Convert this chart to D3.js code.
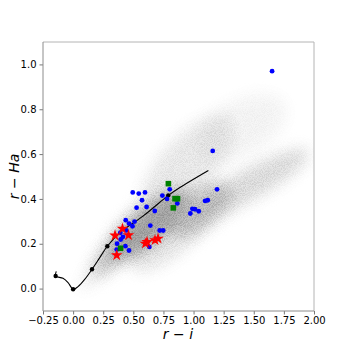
<!DOCTYPE html>
<html>
<head>
<meta charset="utf-8">
<script src="https://cdn.jsdelivr.net/npm/d3@7"></script>
<style>
  body { margin: 0; background: #fff; }
  text { font-family: "DejaVu Sans", sans-serif; }
</style>
</head>
<body>
<div id="chart"></div>
<script>
// axis ticks
const xTicks = [-0.25, 0, 0.25, 0.5, 0.75, 1.0, 1.25, 1.5, 1.75, 2.0];
const yTicks = [0, 0.2, 0.4, 0.6, 0.8, 1.0];

// background population, read as density blobs (centre, half length along ridge, half width, ridge slope, density)
const cloudX = [0.62, 0.62, 0.32, 0.95, 1.45, 1.05, 1.40, 0.80, 0.18, 0.45];
const cloudY = [0.28, 0.28, 0.15, 0.55, 0.46, 0.35, 0.72, 0.21, 0.07, 0.22];
const cloudLen = [0.33, 0.2, 0.15, 0.35, 0.50, 0.25, 0.35, 0.30, 0.12, 0.12];
const cloudWidth = [0.08, 0.05, 0.045, 0.12, 0.065, 0.08, 0.12, 0.07, 0.03, 0.05];
const cloudSlope = [0.45, 0.45, 0.6, 0.6, 0.3, 0.4, 0.3, 0.4, 0.6, 0.55];
const cloudDensity = [0.85, 0.75, 0.5, 0.2, 0.33, 0.5, 0.1, 0.22, 0.15, 0.5];

// model track
const trackRI = [-0.14, -0.145, -0.084, -0.042, 0.0, 0.041, 0.096, 0.157, 0.221, 0.284, 0.387, 0.58, 0.747, 0.79, 0.88, 1.123];
const trackRHa = [0.077, 0.056, 0.046, 0.027, -0.003, 0.009, 0.041, 0.086, 0.138, 0.189, 0.249, 0.323, 0.397, 0.416, 0.449, 0.527];
const trackDotRI = [-0.145, 0.0, 0.157, 0.284, 0.79];
const trackDotRHa = [0.056, -0.003, 0.086, 0.189, 0.416];

// blue circles
const blueRI = [0.495, 0.545, 0.597, 0.572, 0.527, 0.610, 0.678, 0.741, 0.780, 0.802, 0.865,
  0.437, 0.464, 0.510, 0.493, 0.442, 0.392, 0.414, 0.395, 0.365, 0.434, 0.362, 0.464,
  0.641, 0.719, 0.748, 0.633, 0.973, 0.990, 1.012, 1.043, 1.096, 1.118, 1.195, 1.159, 1.652];
const blueRHa = [0.429, 0.424, 0.429, 0.394, 0.361, 0.364, 0.346, 0.415, 0.400, 0.443, 0.380,
  0.305, 0.290, 0.299, 0.278, 0.260, 0.249, 0.231, 0.219, 0.200, 0.189, 0.174, 0.170,
  0.281, 0.259, 0.259, 0.186, 0.335, 0.356, 0.354, 0.345, 0.391, 0.394, 0.443, 0.614, 0.970];

// red stars
const starRI = [0.348, 0.410, 0.460, 0.362, 0.600, 0.614, 0.680, 0.705];
const starRHa = [0.237, 0.267, 0.238, 0.149, 0.201, 0.208, 0.216, 0.223];

// green squares
const squareRI = [0.791, 0.846, 0.867, 0.832, 0.394];
const squareRHa = [0.468, 0.401, 0.401, 0.360, 0.180];

const width = 350, height = 350;
const mLeft = 43, mRight = 314, mTop = 42, mBottom = 311;

const svg = d3.select("#chart").append("svg")
  .attr("width", width).attr("height", height)
  .style("background-color", "white");

const x = d3.scaleLinear().domain([-0.25, 2.0]).range([mLeft, mRight]);
const y = d3.scaleLinear().domain([-0.1, 1.1]).range([mBottom, mTop]);

const defs = svg.append("defs");
defs.append("clipPath").attr("id", "plot")
  .append("rect").attr("x", mLeft).attr("y", mTop)
  .attr("width", mRight - mLeft).attr("height", mBottom - mTop);

defs.append("filter").attr("id", "soft")
  .attr("x", "-30%").attr("y", "-30%").attr("width", "160%").attr("height", "160%")
  .append("feGaussianBlur").attr("stdDeviation", 7);

const f = defs.append("filter").attr("id", "grain")
  .attr("x", "-30%").attr("y", "-30%").attr("width", "160%").attr("height", "160%");
f.append("feGaussianBlur").attr("in", "SourceGraphic").attr("stdDeviation", 9).attr("result", "b");
f.append("feTurbulence").attr("type", "fractalNoise").attr("baseFrequency", 1.1)
  .attr("numOctaves", 1).attr("seed", 7).attr("result", "n");
f.append("feColorMatrix").attr("in", "n").attr("type", "matrix")
  .attr("values", "0 0 0 0 0  0 0 0 0 0  0 0 0 0 0  4 0 0 0 -1.6").attr("result", "m");
f.append("feComposite").attr("in", "b").attr("in2", "m").attr("operator", "in");

// cloud, drawn as a smooth layer and a speckled layer
function drawCloud(filterId, opacity) {
  let g = svg.append("g").attr("clip-path", "url(#plot)")
    .append("g").attr("filter", "url(#" + filterId + ")").attr("opacity", opacity);
  g.selectAll("ellipse").data(d3.range(cloudX.length)).enter()
    .append("ellipse")
    .attr("transform", (i) => {
      let cx = x(cloudX[i]), cy = y(cloudY[i]);
      let ex = x(cloudX[i] + cloudLen[i]), ey = y(cloudY[i] + cloudSlope[i] * cloudLen[i]);
      let a = Math.atan2(ey - cy, ex - cx) * 180 / Math.PI;
      return "translate(" + cx + "," + cy + ") rotate(" + a + ")";
    })
    .attr("rx", (i) => {
      let ex = x(cloudX[i] + cloudLen[i]) - x(cloudX[i]);
      let ey = y(cloudY[i] + cloudSlope[i] * cloudLen[i]) - y(cloudY[i]);
      return Math.hypot(ex, ey);
    })
    .attr("ry", (i) => y(0) - y(cloudWidth[i]))
    .attr("fill", "#858585")
    .attr("fill-opacity", (i) => cloudDensity[i]);
}
drawCloud("soft", 0.7);
drawCloud("grain", 0.7);

// axes
let xAxis = d3.axisBottom(x).tickValues(xTicks).tickFormat(d3.format(".2f")).tickSize(3.5).tickPadding(2);
let yAxis = d3.axisLeft(y).tickValues(yTicks).tickFormat(d3.format(".1f")).tickSize(3.5).tickPadding(3);

let gx = svg.append("g").attr("transform", "translate(0," + mBottom + ")").call(xAxis);
let gy = svg.append("g").attr("transform", "translate(" + mLeft + ",0)").call(yAxis);
[gx, gy].forEach((g) => {
  g.select(".domain").remove();
  g.selectAll(".tick line").attr("stroke", "#555").attr("stroke-width", 0.8);
  g.selectAll(".tick text").attr("fill", "#000").style("font-size", "10px")
    .style("font-family", "'DejaVu Sans', sans-serif");
});

// spines
svg.append("line").attr("x1", mLeft).attr("x2", mRight).attr("y1", mTop).attr("y2", mTop)
  .attr("stroke", "#b4b4b4").attr("stroke-width", 1);
svg.append("line").attr("x1", mRight).attr("x2", mRight).attr("y1", mTop).attr("y2", mBottom)
  .attr("stroke", "#b4b4b4").attr("stroke-width", 1);
svg.append("line").attr("x1", mLeft).attr("x2", mLeft).attr("y1", mTop).attr("y2", mBottom)
  .attr("stroke", "#8c8c8c").attr("stroke-width", 1);
svg.append("line").attr("x1", mLeft).attr("x2", mRight).attr("y1", mBottom).attr("y2", mBottom)
  .attr("stroke", "#8c8c8c").attr("stroke-width", 1);

let plot = svg.append("g").attr("clip-path", "url(#plot)");

// model track
let line = d3.line().x((i) => x(trackRI[i])).y((i) => y(trackRHa[i]))
  .curve(d3.curveCatmullRom.alpha(0.5));
plot.append("path").datum(d3.range(trackRI.length))
  .attr("d", line).attr("fill", "none").attr("stroke", "black").attr("stroke-width", 1.1);
plot.selectAll("circle.track").data(d3.range(trackDotRI.length)).enter()
  .append("circle").attr("class", "track")
  .attr("cx", (i) => x(trackDotRI[i])).attr("cy", (i) => y(trackDotRHa[i]))
  .attr("r", 2.2).attr("fill", "black");

// blue circles
plot.selectAll("circle.blue").data(d3.range(blueRI.length)).enter()
  .append("circle").attr("class", "blue")
  .attr("cx", (i) => x(blueRI[i])).attr("cy", (i) => y(blueRHa[i]))
  .attr("r", 2.4).attr("fill", "#0000ff");

// red stars
let star = d3.symbol().type(d3.symbolStar).size(42);
plot.selectAll("path.star").data(d3.range(starRI.length)).enter()
  .append("path").attr("class", "star")
  .attr("transform", (i) => "translate(" + x(starRI[i]) + "," + y(starRHa[i]) + ")")
  .attr("d", star).attr("fill", "#ff0000");

// green squares
let side = 5.6;
plot.selectAll("rect.sq").data(d3.range(squareRI.length)).enter()
  .append("rect").attr("class", "sq")
  .attr("x", (i) => x(squareRI[i]) - side / 2).attr("y", (i) => y(squareRHa[i]) - side / 2)
  .attr("width", side).attr("height", side).attr("fill", "#008000");

// axis labels
let xl = svg.append("text").attr("x", 178).attr("y", 339)
  .attr("text-anchor", "middle").style("font-size", "14px");
xl.append("tspan").attr("font-style", "italic").text("r");
xl.append("tspan").text(" \u2212 ");
xl.append("tspan").attr("font-style", "italic").text("i");

let yl = svg.append("text").attr("transform", "translate(19," + (mTop + mBottom) / 2 + ") rotate(-90)")
  .attr("text-anchor", "middle").style("font-size", "14px");
yl.append("tspan").attr("font-style", "italic").text("r");
yl.append("tspan").text(" \u2212 ");
yl.append("tspan").attr("font-style", "italic").text("Ha");
</script>
</body>
</html>
